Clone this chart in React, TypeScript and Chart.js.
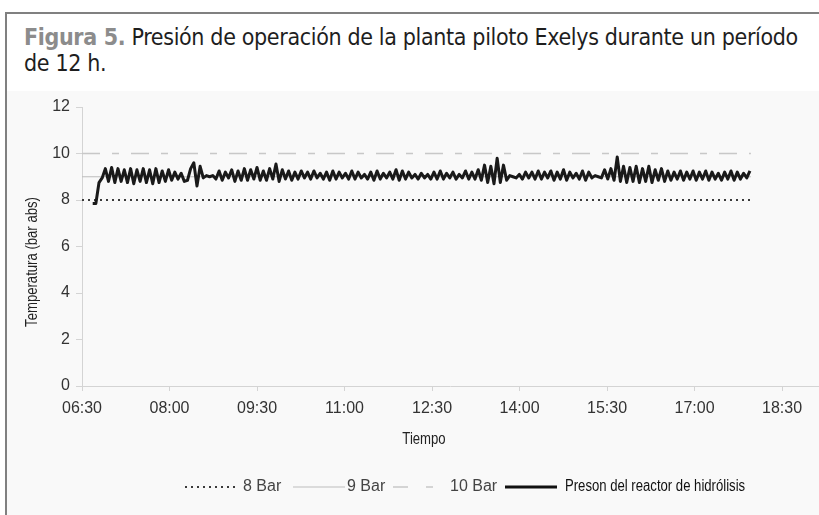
import React, { useEffect, useRef } from "react";
import { Chart, registerables } from "chart.js";

Chart.register(...registerables);

// ---- data (minutes since midnight) ----
const startMinute = 401;
const stepMinutes = 3.25;
const pressure = [
  7.85, 7.85, 8.75, 8.95, 9.35, 8.8, 9.4, 8.75, 9.35, 8.8,
  9.3, 8.75, 9.35, 8.7, 9.3, 8.8, 9.35, 8.75, 9.3, 8.7,
  9.35, 8.75, 9.25, 8.8, 9.3, 8.85, 9.2, 8.9, 9.15, 8.8,
  8.85, 9.35, 9.6, 8.6, 9.45, 8.95, 9.05, 9.0, 9.05, 8.9,
  9.25, 8.85, 9.2, 8.95, 9.3, 8.8, 9.25, 8.85, 9.35, 8.85,
  9.3, 8.9, 9.4, 8.85, 9.25, 8.85, 9.35, 8.9, 9.55, 8.8,
  9.3, 8.9, 9.25, 8.85, 9.2, 8.9, 9.25, 8.95, 9.2, 8.9,
  9.25, 8.95, 9.15, 8.9, 9.2, 8.85, 9.25, 8.9, 9.2, 8.95,
  9.15, 8.9, 9.25, 8.9, 9.2, 8.95, 9.1, 8.9, 9.2, 8.85,
  9.25, 8.9, 9.15, 8.95, 9.2, 8.9, 9.3, 8.85, 9.25, 8.9,
  9.2, 8.95, 9.1, 8.9, 9.15, 8.95, 9.1, 8.9, 9.2, 8.9,
  9.25, 8.9, 9.15, 8.95, 9.2, 8.9, 9.1, 8.95, 9.25, 8.9,
  9.2, 8.9, 9.3, 8.85, 9.5, 8.75, 9.45, 8.7, 9.8, 8.75,
  9.5, 8.85, 9.05, 9.0, 8.95, 9.1, 8.9, 9.2, 8.95, 9.2,
  8.9, 9.25, 8.9, 9.2, 8.95, 9.25, 8.85, 9.2, 8.9, 9.3,
  8.85, 9.2, 8.95, 9.15, 8.9, 9.25, 8.85, 9.2, 8.95, 9.05,
  9.0, 8.95, 9.3, 8.9, 9.35, 8.85, 9.85, 8.8, 9.45, 8.75,
  9.4, 8.8, 9.45, 8.75, 9.35, 8.8, 9.45, 8.75, 9.3, 8.85,
  9.35, 8.8, 9.25, 8.85, 9.2, 8.9, 9.25, 8.85, 9.2, 8.9,
  9.25, 8.85, 9.2, 8.9, 9.25, 8.85, 9.2, 8.9, 9.15, 8.85,
  9.2, 8.9, 9.25, 8.85, 9.2, 8.9, 9.15, 8.95, 9.25,
];
const refLevels = [8, 9, 10];
const refLabels = ["8 Bar", "9 Bar", "10 Bar"];
const seriesLabel = "Preson del reactor de hidrólisis";
const refStart = 390;
const refEnd = 1078;
const xTicks = [390, 480, 570, 660, 750, 840, 930, 1020, 1110];
const yTicks = [0, 2, 4, 6, 8, 10, 12];
const xTitle = "Tiempo";
const yTitle = "Temperatura (bar abs)";
const titleLead = "Figura 5.";
const titleRest = " Presión de operación de la planta piloto Exelys durante un período de 12 h.";

const COND = '"DejaVu Sans Condensed", "Liberation Sans Narrow", sans-serif';
const ARIAL = '"Liberation Sans", Arial, sans-serif';
const NARROW_SCALE = 0.82;

const fmt = (v: number) => {
  const h = Math.floor(v / 60);
  const m = Math.round(v - h * 60);
  return String(h).padStart(2, "0") + ":" + String(m).padStart(2, "0");
};

const refStyles = [
  { color: "#3a3a3a", dash: [2, 4], width: 2 },
  { color: "#bdbdbd", dash: [], width: 1 },
  { color: "#c8c8c8", dash: [18, 12, 7, 12], width: 1.5 },
];

function narrowText(ctx: any, text: string, x: number, y: number, align: string, rot = 0) {
  ctx.save();
  ctx.translate(x, y);
  if (rot) ctx.rotate(rot);
  ctx.scale(NARROW_SCALE, 1);
  ctx.textAlign = align;
  ctx.textBaseline = "middle";
  ctx.fillText(text, 0, 0);
  ctx.restore();
}

const textPlugin = {
  id: "texts",
  afterDraw(chart: any) {
    const ctx = chart.ctx;
    ctx.save();
    ctx.fillStyle = "#222";
    ctx.font = `16px ${ARIAL}`;
    narrowText(ctx, yTitle, 33, 262, "center", -Math.PI / 2);
    narrowText(ctx, xTitle, 424, 440, "center");

    // legend
    const ly = 487;
    const items = [
      { x0: 185, x1: 237, tx: 243 },
      { x0: 293, x1: 345, tx: 347 },
      { x0: 393, x1: 435, tx: 450 },
    ];
    ctx.textAlign = "left";
    ctx.textBaseline = "middle";
    items.forEach((it, i) => {
      const st = refStyles[i];
      ctx.beginPath();
      ctx.strokeStyle = st.color;
      ctx.lineWidth = st.width;
      ctx.setLineDash(i === 2 ? [15, 18, 7, 100] : st.dash);
      ctx.moveTo(it.x0, ly);
      ctx.lineTo(it.x1, ly);
      ctx.stroke();
      ctx.setLineDash([]);
      ctx.fillStyle = "#444";
      ctx.font = `16px ${ARIAL}`;
      ctx.fillText(refLabels[i], it.tx, ly);
    });
    ctx.beginPath();
    ctx.strokeStyle = "#111";
    ctx.lineWidth = 3;
    ctx.moveTo(505, ly);
    ctx.lineTo(557, ly);
    ctx.stroke();
    ctx.fillStyle = "#111";
    ctx.font = `16px ${ARIAL}`;
    narrowText(ctx, seriesLabel, 565, ly, "left");
    ctx.restore();
  },
};

export default function App() {
  const ref = useRef<HTMLCanvasElement | null>(null);
  useEffect(() => {
    if (!ref.current) return;
    const datasets: any[] = [
      {
        label: seriesLabel,
        data: pressure.map((v, i) => ({ x: startMinute + i * stepMinutes, y: v })),
        borderColor: "#1a1a1a",
        borderWidth: 3,
        pointRadius: 0,
        tension: 0,
        borderJoinStyle: "round",
      },
      ...refLevels.map((lv, i) => ({
        label: refLabels[i],
        data: [
          { x: refStart, y: lv },
          { x: refEnd, y: lv },
        ],
        borderColor: refStyles[i].color,
        borderWidth: refStyles[i].width,
        borderDash: refStyles[i].dash,
        pointRadius: 0,
      })),
    ];
    const chart = new Chart(ref.current, {
      type: "line",
      data: { datasets },
      options: {
        animation: false,
        responsive: false,
        maintainAspectRatio: false,
        layout: { padding: { left: 0, top: 107, right: 1, bottom: 0 } },
        plugins: { legend: { display: false }, tooltip: { enabled: false } },
        scales: {
          x: {
            type: "linear",
            min: 390,
            max: 1147,
            afterBuildTicks: (s: any) => {
              s.ticks = xTicks.map((v) => ({ value: v }));
            },
            afterFit: (s: any) => {
              s.height = 129;
            },
            grid: { display: true, drawOnChartArea: false, drawTicks: true, tickLength: 5, color: "#d4d4d4" },
            border: { display: true, color: "#d4d4d4", width: 1 },
            ticks: {
              font: { family: ARIAL, size: 16 },
              color: "#333",
              padding: 8,
              maxRotation: 0,
              autoSkip: false,
              callback: (v: any) => fmt(Number(v)),
            },
          },
          y: {
            type: "linear",
            min: 0,
            max: 12,
            afterBuildTicks: (s: any) => {
              s.ticks = yTicks.map((v) => ({ value: v }));
            },
            afterFit: (s: any) => {
              s.width = 82;
            },
            grid: { display: true, drawOnChartArea: false, drawTicks: true, tickLength: 6, color: "#d4d4d4" },
            border: { display: true, color: "#d4d4d4", width: 1 },
            ticks: {
              font: { family: ARIAL, size: 16 },
              color: "#333",
              padding: 6,
              autoSkip: false,
            },
          },
        },
      } as any,
      plugins: [textPlugin],
    });
    return () => chart.destroy();
  }, []);

  return (
    <div style={{ position: "absolute", left: 0, top: 0, width: 819, height: 515, background: "#fff", overflow: "hidden" }}>
      <div
        style={{
          position: "absolute",
          left: 5,
          top: 12,
          width: 830,
          height: 520,
          borderLeft: "2px solid #808080",
          borderTop: "2px solid #808080",
          background: "#fff",
        }}
      />
      <div style={{ position: "absolute", left: 7, top: 91, width: 812, height: 424, background: "#f9f9f9" }} />
      <div
        style={{
          position: "absolute",
          left: 24,
          top: 24,
          width: 792,
          fontFamily: COND,
          fontSize: 23,
          letterSpacing: "-0.35px",
          lineHeight: "26px",
          color: "#1e1e1e",
        }}
      >
        <span style={{ color: "#8c8c8c", fontWeight: "bold" }}>{titleLead}</span>
        {titleRest}
      </div>
      <canvas ref={ref} width={819} height={515} style={{ position: "absolute", left: 0, top: 0, width: 819, height: 515 }} />
    </div>
  );
}
